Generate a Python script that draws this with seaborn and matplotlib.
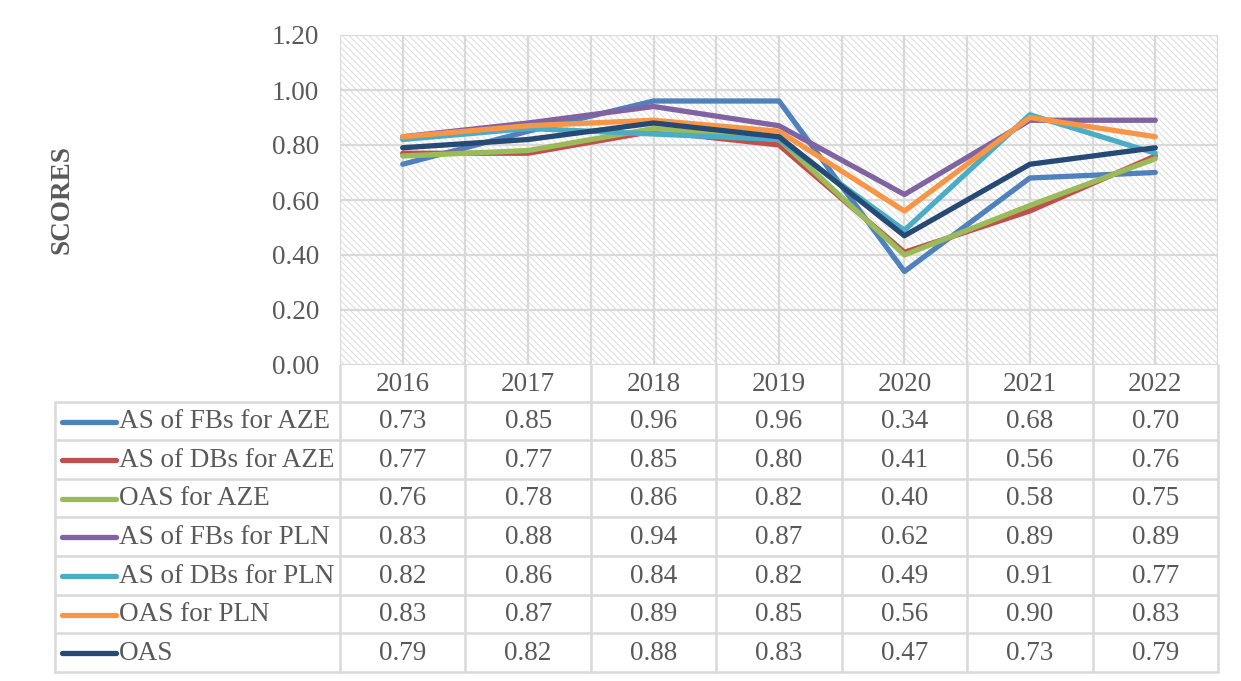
#!/usr/bin/env python3
"""Line chart of scores with an Excel-style data table underneath."""

import numpy as np
import pandas as pd
import matplotlib
matplotlib.use("Agg")
import matplotlib.pyplot as plt
import matplotlib.transforms as mtransforms
from matplotlib.patches import Rectangle
import seaborn as sns

# data
years = ["2016", "2017", "2018", "2019", "2020", "2021", "2022"]
series_names = [
    "AS of FBs for AZE",
    "AS of DBs for AZE",
    "OAS for AZE",
    "AS of FBs for PLN",
    "AS of DBs for PLN",
    "OAS for PLN",
    "OAS",
]
fb_aze = [0.73, 0.85, 0.96, 0.96, 0.34, 0.68, 0.70]
db_aze = [0.77, 0.77, 0.85, 0.80, 0.41, 0.56, 0.76]
oas_aze = [0.76, 0.78, 0.86, 0.82, 0.40, 0.58, 0.75]
fb_pln = [0.83, 0.88, 0.94, 0.87, 0.62, 0.89, 0.89]
db_pln = [0.82, 0.86, 0.84, 0.82, 0.49, 0.91, 0.77]
oas_pln = [0.83, 0.87, 0.89, 0.85, 0.56, 0.90, 0.83]
oas_all = [0.79, 0.82, 0.88, 0.83, 0.47, 0.73, 0.79]
y_ticks = [0.0, 0.2, 0.4, 0.6, 0.8, 1.0, 1.2]

series_values = [fb_aze, db_aze, oas_aze, fb_pln, db_pln, oas_pln, oas_all]
colors = ["#4F81BD", "#C0504D", "#9BBB59", "#8064A2", "#4BACC6", "#F79646", "#264A73"]

W, H = 1241, 681
TEXT = "#595959"
GRID = "#D9D9D9"
FS = 19.5
LW = 3.8

sns.set_style("white")
plt.rcParams["font.family"] = ["Liberation Serif", "DejaVu Serif"]
plt.rcParams["hatch.linewidth"] = 0.7

rows = []
for name, vals in zip(series_names, series_values):
    for i, v in enumerate(vals):
        rows.append({"series": name, "x": i, "score": v})
df = pd.DataFrame(rows)

fig = plt.figure(figsize=(W / 100, H / 100), dpi=100)
left, right, top, bottom = 340, 1218, 35, 365
ax = fig.add_axes([left / W, 1 - bottom / H, (right - left) / W, (bottom - top) / H])

# hatched plot area
ax.add_patch(Rectangle((0, 0), 1, 1, transform=ax.transAxes, facecolor="white",
                       edgecolor="#DCDCDC", linewidth=0, hatch="\\\\\\\\\\", zorder=0))

sns.lineplot(data=df, x="x", y="score", hue="series", hue_order=series_names,
             palette=colors, linewidth=LW, legend=False, sort=False, ax=ax, zorder=3)

ax.set_xlim(-0.5, len(years) - 0.5)
ax.set_ylim(0, 1.2)
ax.set_yticks(y_ticks)
ax.set_yticklabels([f"{t:.2f}" for t in y_ticks], color=TEXT, fontsize=FS)
ax.set_xticks(np.arange(-0.5, len(years), 0.5))
ax.set_xticklabels([])
ax.tick_params(length=0, axis="y", pad=15)
ax.tick_params(length=0, axis="x")
ax.grid(True, color=GRID, linewidth=1.6, zorder=1)
ax.set_axisbelow(True)
for s in ax.spines.values():
    s.set_visible(False)
ax.set_xlabel("")
ax.set_ylabel("")

fig.text(62 / W, 1 - 200 / H, "SCORES", rotation=90, ha="center", va="center",
         fontsize=FS, fontweight="bold", color=TEXT)

# data table below the plot
blend = mtransforms.blended_transform_factory(ax.transData, ax.transAxes)
px_h = bottom - top


def yfrac(py):
    return (bottom - py) / px_h


row_lines = [402, 440, 479, 517, 556, 595, 633, 672]
unit = (right - left) / len(years)
x_left = -0.5 - (left - 55) / unit

# vertical lines
for k in range(len(years) + 1):
    ax.plot([k - 0.5, k - 0.5], [yfrac(bottom), yfrac(row_lines[-1])], transform=blend,
            color=GRID, linewidth=1.8, clip_on=False, zorder=1)
ax.plot([x_left, x_left], [yfrac(row_lines[0]), yfrac(row_lines[-1])], transform=blend,
        color=GRID, linewidth=1.8, clip_on=False)
# horizontal lines
for py in row_lines:
    ax.plot([x_left, len(years) - 0.5], [yfrac(py), yfrac(py)], transform=blend,
            color=GRID, linewidth=1.8, clip_on=False)

# header
for i, yr in enumerate(years):
    ax.text(i, yfrac((bottom + row_lines[0]) / 2 + 1), yr, transform=blend,
            ha="center", va="center", fontsize=FS, color=TEXT)

for r, (name, vals, c) in enumerate(zip(series_names, series_values, colors)):
    yc = yfrac((row_lines[r] + row_lines[r + 1]) / 2 + 1)
    x0 = x_left + (62 - 55) / unit
    x1 = x_left + (116 - 55) / unit
    ax.plot([x0, x1], [yc, yc], transform=blend, color=c, linewidth=LW,
            solid_capstyle="round", clip_on=False)
    ax.text(x_left + (119 - 55) / unit, yc, name, transform=blend, ha="left",
            va="center", fontsize=FS, color=TEXT)
    for i, v in enumerate(vals):
        ax.text(i, yc, f"{v:.2f}", transform=blend, ha="center", va="center",
                fontsize=FS, color=TEXT)

fig.savefig("out.png", dpi=100)
